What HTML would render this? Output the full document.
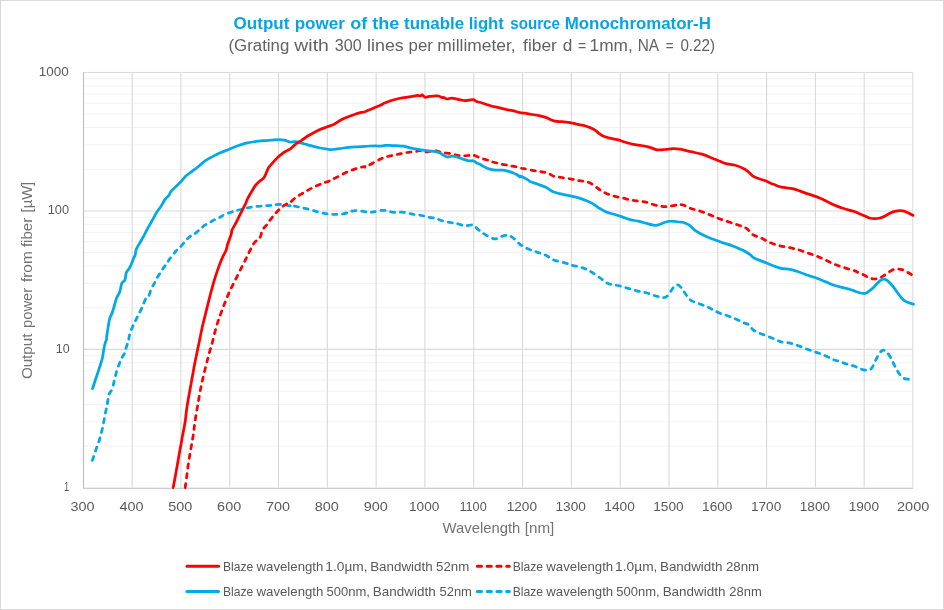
<!DOCTYPE html>
<html><head><meta charset="utf-8"><title>Output power of the tunable light source Monochromator-H</title>
<style>
html,body{margin:0;padding:0;background:#fff;}
body{width:944px;height:610px;overflow:hidden;}
svg{display:block;}
text{font-family:"Liberation Sans",Arial,sans-serif;}
</style></head><body>
<svg width="944" height="610" viewBox="0 0 944 610">
<rect x="0" y="0" width="944" height="610" fill="#fff"/>
<rect x="0.5" y="0.5" width="943" height="609" fill="none" stroke="#d9d9d9" stroke-width="1"/>

<path d="M83.5 446.2H912.8 M83.5 421.82H912.8 M83.5 404.52H912.8 M83.5 391.1H912.8 M83.5 380.13H912.8 M83.5 370.86H912.8 M83.5 362.83H912.8 M83.5 355.75H912.8 M83.5 307.72H912.8 M83.5 283.34H912.8 M83.5 266.04H912.8 M83.5 252.62H912.8 M83.5 241.65H912.8 M83.5 232.38H912.8 M83.5 224.35H912.8 M83.5 217.27H912.8 M83.5 169.24H912.8 M83.5 144.86H912.8 M83.5 127.56H912.8 M83.5 114.14H912.8 M83.5 103.17H912.8 M83.5 93.9H912.8 M83.5 85.87H912.8 M83.5 78.79H912.8" stroke="#f2f2f2" stroke-width="1" fill="none"/>
<path d="M83.5 349.41H912.8 M83.5 210.93H912.8 M132.11 72.45V487.5 M180.91 72.45V487.5 M229.72 72.45V487.5 M278.52 72.45V487.5 M327.33 72.45V487.5 M376.14 72.45V487.5 M424.94 72.45V487.5 M473.75 72.45V487.5 M522.55 72.45V487.5 M571.36 72.45V487.5 M620.16 72.45V487.5 M668.97 72.45V487.5 M717.78 72.45V487.5 M766.58 72.45V487.5 M815.39 72.45V487.5 M864.19 72.45V487.5" stroke="#d9d9d9" stroke-width="1.1" fill="none"/>
<path d="M83.5 72.45H912.8V487.5" fill="none" stroke="#d9d9d9" stroke-width="1"/>
<path d="M83.5 72V488.2H913" fill="none" stroke="#bfbfbf" stroke-width="1.15"/>
<g fill="none" stroke-width="2.75" stroke-linejoin="round" stroke-linecap="round">
<path d="M92.4 460.4C93.0 458.5 94.9 452.9 96.1 449.3C97.3 445.7 98.6 442.7 99.7 439.0C100.8 435.3 101.8 431.1 102.7 427.2C103.6 423.3 104.2 419.1 104.9 415.4C105.6 411.7 106.5 408.3 107.1 405.1C107.7 401.9 108.2 398.2 108.6 396.2C109.0 394.2 109.0 394.5 109.6 393.2C110.2 391.9 111.5 390.6 112.3 388.6C113.0 386.6 113.6 383.5 114.1 381.4C114.6 379.3 115.0 377.8 115.5 376.0C116.0 374.2 116.2 372.6 116.8 370.6C117.4 368.7 118.4 366.1 119.1 364.3C119.8 362.5 120.2 361.2 120.9 359.8C121.6 358.4 122.4 357.0 123.1 355.8C123.8 354.6 124.5 353.7 124.9 352.6C125.4 351.5 125.4 350.4 125.8 349.0C126.2 347.6 126.8 345.6 127.2 344.5C127.6 343.4 127.7 344.2 128.2 342.3C128.7 340.4 129.1 336.2 130.0 333.2C130.9 330.2 132.5 327.0 133.7 324.3C134.9 321.6 136.1 319.6 137.4 316.9C138.8 314.2 140.3 311.3 141.8 308.1C143.3 304.9 145.0 299.8 146.2 297.8C147.4 295.8 148.0 297.4 148.8 295.9C149.7 294.3 150.3 290.7 151.3 288.5C152.3 286.3 153.7 284.6 154.6 282.8C155.5 281.0 156.1 279.5 157.0 277.9C157.9 276.3 159.3 274.5 160.3 273.0C161.3 271.5 162.0 270.1 162.8 268.9C163.6 267.7 164.4 266.7 165.2 265.6C166.0 264.5 167.0 263.4 167.7 262.3C168.4 261.2 168.6 260.4 169.5 259.1C170.4 257.8 172.4 255.6 173.4 254.3C174.4 253.0 174.6 252.5 175.5 251.5C176.4 250.5 177.9 249.5 179.1 248.3C180.3 247.1 181.4 245.8 182.6 244.4C183.8 243.1 184.9 241.5 186.1 240.2C187.3 238.9 188.4 237.5 189.6 236.7C190.8 235.9 192.0 236.1 193.2 235.3C194.4 234.5 195.4 233.2 196.7 232.1C198.0 231.0 199.6 229.7 200.9 228.6C202.2 227.5 203.1 226.3 204.4 225.4C205.7 224.5 207.3 224.1 208.7 223.3C210.1 222.5 211.6 221.2 212.9 220.5C214.2 219.8 215.0 219.6 216.4 218.9C217.8 218.2 220.2 217.2 221.4 216.6C222.6 215.9 222.1 215.7 223.6 215.0C225.1 214.3 228.3 213.2 230.3 212.5C232.3 211.8 233.4 211.4 235.4 210.8C237.4 210.2 239.8 209.7 242.2 209.1C244.6 208.5 247.2 207.9 249.8 207.4C252.4 206.9 254.9 206.6 257.5 206.3C260.1 206.0 262.7 206.0 265.1 205.8C267.5 205.6 269.5 205.5 271.9 205.3C274.3 205.1 276.5 204.3 279.5 204.4C282.5 204.5 287.9 205.5 289.7 205.7C291.4 205.9 288.5 205.2 290.0 205.4C291.5 205.6 295.5 206.4 298.5 207.0C301.5 207.6 304.9 208.3 308.1 209.1C311.3 209.9 314.7 211.0 317.7 211.8C320.7 212.6 323.4 213.3 326.2 213.7C329.0 214.1 331.9 214.4 334.7 214.4C337.5 214.4 340.7 214.3 343.2 213.9C345.7 213.5 347.5 212.4 349.6 211.8C351.7 211.2 353.5 210.5 356.0 210.5C358.5 210.5 362.2 211.3 364.5 211.6C366.8 211.9 368.5 212.2 370.0 212.3C371.5 212.4 371.1 212.2 373.4 211.9C375.7 211.6 380.2 210.2 383.6 210.3C387.0 210.4 390.3 212.0 393.7 212.3C397.1 212.6 400.5 211.9 403.9 212.3C407.3 212.7 411.1 214.0 414.1 214.5C417.1 215.0 419.3 215.1 421.7 215.5C424.1 215.9 426.2 216.8 428.5 217.2C430.8 217.6 433.1 217.6 435.3 218.2C437.6 218.8 439.5 220.1 442.0 220.8C444.5 221.5 447.9 222.0 450.5 222.5C453.1 223.0 455.0 223.1 457.3 223.6C459.6 224.1 461.9 225.5 464.1 225.7C466.4 225.9 469.1 225.0 470.8 225.0C472.5 225.0 472.8 224.8 474.2 225.7C475.6 226.6 477.3 228.8 479.3 230.4C481.3 232.0 483.6 233.8 486.1 235.2C488.7 236.6 492.1 238.7 494.6 238.9C497.2 239.1 499.1 237.0 501.4 236.4C503.6 235.8 506.1 235.2 508.1 235.5C510.1 235.8 511.2 236.5 513.2 238.0C515.2 239.5 517.5 242.5 520.0 244.3C522.5 246.2 525.7 247.8 528.5 249.1C531.3 250.4 534.2 251.1 537.0 252.1C539.8 253.1 542.6 253.7 545.4 255.0C548.2 256.3 550.8 258.8 553.9 260.1C557.0 261.4 561.0 261.7 564.1 262.6C567.2 263.5 569.8 264.6 572.4 265.3C575.0 266.0 577.2 266.3 579.5 266.9C581.8 267.5 583.8 268.1 585.9 269.0C588.0 269.9 589.8 271.0 592.2 272.5C594.6 274.0 597.6 276.1 600.2 278.0C602.9 279.9 605.2 282.4 608.1 283.6C611.0 284.9 614.5 284.8 617.7 285.5C620.9 286.2 624.0 287.2 627.2 288.1C630.4 289.0 633.5 290.0 636.7 290.8C639.9 291.6 643.1 291.9 646.3 292.8C649.5 293.7 652.9 295.2 655.8 296.0C658.7 296.8 661.7 297.8 663.8 297.6C665.9 297.4 666.9 296.4 668.5 294.7C670.1 293.0 671.8 289.2 673.3 287.6C674.8 286.0 676.0 284.9 677.3 284.9C678.6 284.9 679.8 286.0 681.2 287.6C682.7 289.2 684.4 292.6 686.0 294.7C687.6 296.8 688.7 298.8 690.8 300.3C692.9 301.8 696.1 302.4 698.7 303.5C701.4 304.6 704.3 305.6 706.7 306.6C709.1 307.7 710.9 308.7 713.0 309.8C715.1 310.9 716.9 312.0 719.4 313.0C721.9 314.0 725.1 314.9 727.7 315.8C730.4 316.8 732.8 317.6 735.3 318.7C737.8 319.8 740.8 321.5 743.0 322.5C745.2 323.5 747.0 323.5 748.7 324.7C750.4 325.9 751.3 328.4 753.1 329.8C754.9 331.2 757.2 332.1 759.5 333.2C761.8 334.2 764.6 335.1 767.1 336.1C769.6 337.1 772.4 338.1 774.7 339.1C777.0 340.1 778.8 341.3 781.1 341.9C783.4 342.5 786.2 342.4 788.7 342.9C791.2 343.4 793.9 344.1 796.4 345.0C798.9 345.9 801.5 347.0 804.0 348.0C806.5 349.0 809.1 349.9 811.6 350.8C814.1 351.7 816.7 352.4 819.2 353.3C821.8 354.2 824.4 355.4 826.9 356.5C829.4 357.6 832.4 359.2 834.5 360.0C836.6 360.8 837.7 360.7 839.3 361.2C840.9 361.7 842.4 362.5 844.1 363.1C845.9 363.7 848.0 364.5 849.8 365.0C851.5 365.5 853.0 365.7 854.6 366.3C856.2 366.9 857.6 367.8 859.3 368.4C861.0 369.0 863.2 369.9 865.0 370.1C866.8 370.3 868.5 370.4 869.8 369.8C871.1 369.2 871.8 368.0 872.7 366.5C873.7 365.0 874.5 362.6 875.5 360.7C876.5 358.8 877.4 356.6 878.4 355.0C879.4 353.4 880.2 352.0 881.2 351.2C882.2 350.4 883.1 350.1 884.1 350.3C885.1 350.5 885.9 350.9 887.0 352.2C888.1 353.5 889.7 356.0 890.8 357.9C891.9 359.8 892.6 361.7 893.6 363.6C894.6 365.5 895.4 367.4 896.5 369.3C897.6 371.2 899.0 373.5 900.3 375.0C901.6 376.5 902.7 377.7 904.1 378.4C905.5 379.1 908.1 379.1 908.9 379.3" stroke="#00a9ea" stroke-dasharray="4.2 5.6"/>
<path d="M185.2 487.6C185.5 485.5 186.3 479.2 186.9 475.0C187.5 470.8 188.0 466.2 188.6 462.4C189.2 458.6 189.7 455.5 190.3 452.1C190.9 448.7 191.5 445.2 192.1 441.8C192.7 438.4 193.4 434.4 193.8 431.5C194.2 428.6 194.0 428.4 194.6 424.3C195.2 420.2 196.3 413.0 197.4 406.9C198.5 400.8 199.7 393.2 200.9 387.4C202.1 381.6 203.2 376.9 204.4 372.0C205.6 367.1 206.9 362.0 207.9 358.1C208.9 354.2 209.9 350.8 210.6 348.4C211.3 346.0 211.2 346.9 212.1 343.5C213.0 340.1 214.6 332.8 216.0 327.9C217.4 323.0 219.1 318.3 220.7 313.9C222.3 309.5 223.8 305.3 225.4 301.4C227.0 297.5 228.4 294.1 230.1 290.5C231.8 286.9 233.6 283.5 235.5 279.6C237.4 275.7 240.0 270.7 241.8 267.1C243.6 263.5 245.0 260.7 246.4 257.8C247.8 255.0 248.9 252.6 250.3 250.0C251.7 247.4 253.2 244.1 254.8 242.2C256.4 240.2 258.4 240.3 259.7 238.3C261.0 236.3 261.3 232.3 262.5 230.0C263.7 227.7 265.4 226.6 266.8 224.7C268.2 222.8 269.6 220.6 271.0 218.8C272.4 217.0 273.9 215.3 275.3 213.7C276.7 212.1 278.1 210.4 279.5 209.1C280.9 207.8 282.1 206.8 283.7 205.7C285.2 204.6 287.8 203.2 288.8 202.7C289.9 202.2 288.9 203.5 290.0 202.7C291.1 201.9 293.0 199.6 295.3 197.9C297.6 196.2 301.0 194.3 303.8 192.6C306.6 190.9 309.4 189.3 312.4 187.8C315.4 186.3 319.5 184.5 322.0 183.5C324.5 182.5 325.5 182.4 327.3 181.7C329.1 181.0 330.5 180.3 332.6 179.3C334.7 178.3 337.4 176.9 340.1 175.6C342.8 174.3 345.8 172.5 348.6 171.3C351.4 170.1 354.5 169.1 357.1 168.3C359.8 167.5 363.2 166.7 364.5 166.5C365.8 166.3 364.2 167.4 365.0 167.2C365.8 167.0 367.4 166.1 369.2 165.1C371.0 164.1 373.9 162.4 376.0 161.3C378.1 160.2 380.2 159.1 382.0 158.3C383.8 157.5 385.0 157.1 387.0 156.6C389.0 156.1 391.8 155.6 393.8 155.2C395.8 154.8 397.1 154.5 398.9 154.1C400.7 153.7 403.0 153.1 404.8 152.8C406.6 152.5 408.1 152.3 409.9 152.1C411.7 151.9 414.2 151.7 415.8 151.5C417.4 151.3 417.8 150.6 419.2 150.7C420.6 150.8 422.6 151.8 424.3 151.9C426.0 152.0 427.7 151.7 429.4 151.5C431.1 151.3 432.8 150.6 434.5 150.7C436.2 150.8 438.1 151.6 439.6 151.9C441.1 152.2 441.5 152.5 443.4 152.8C445.3 153.1 448.5 153.1 451.0 153.6C453.5 154.1 456.5 155.2 458.6 155.6C460.7 156.0 461.9 155.9 463.7 155.8C465.5 155.8 468.1 155.4 469.7 155.3C471.3 155.2 472.1 154.8 473.5 155.1C474.9 155.4 476.6 156.4 478.1 157.0C479.6 157.6 480.8 158.2 482.4 158.7C484.0 159.2 485.9 159.5 487.5 160.0C489.1 160.5 490.1 161.2 491.7 161.7C493.2 162.2 495.2 162.6 496.8 163.0C498.4 163.4 499.3 163.8 501.0 164.2C502.7 164.5 505.4 164.8 507.0 165.1C508.6 165.4 508.9 165.7 510.3 165.9C511.7 166.2 513.8 166.2 515.4 166.6C517.0 166.9 518.6 167.7 520.0 168.0C521.4 168.3 521.4 168.2 523.5 168.6C525.6 169.0 529.7 169.8 532.4 170.3C535.1 170.8 537.0 171.0 539.5 171.4C542.0 171.8 545.1 172.2 547.5 173.0C549.9 173.8 551.4 175.4 553.8 176.2C556.2 176.9 558.9 177.0 561.8 177.5C564.7 178.0 568.4 178.6 571.3 179.1C574.2 179.6 576.6 180.2 579.3 180.7C581.9 181.2 584.8 181.2 587.2 181.9C589.6 182.6 591.5 183.8 593.6 185.1C595.7 186.4 597.8 188.5 599.9 189.9C602.0 191.3 603.9 192.4 606.3 193.4C608.7 194.4 611.6 195.5 614.2 196.2C616.9 196.9 619.6 197.2 622.2 197.8C624.9 198.4 627.5 199.5 630.1 200.0C632.8 200.5 635.5 200.7 638.1 201.0C640.8 201.3 643.4 201.5 646.0 202.1C648.6 202.7 651.4 204.1 654.0 204.8C656.6 205.5 659.5 206.1 661.9 206.4C664.3 206.7 665.6 206.7 668.2 206.4C670.9 206.1 675.3 205.1 677.8 204.8C680.2 204.6 680.7 204.3 682.9 204.9C685.1 205.5 688.0 207.4 690.9 208.5C693.8 209.6 697.2 210.1 700.4 211.2C703.6 212.3 706.8 213.6 710.0 214.9C713.2 216.2 716.3 217.6 719.5 218.8C722.7 220.0 725.8 220.9 729.0 222.0C732.2 223.1 735.7 224.1 738.6 225.2C741.5 226.3 744.1 226.8 746.5 228.4C748.9 230.0 750.5 233.1 752.9 234.7C755.3 236.3 757.9 236.6 760.8 237.9C763.7 239.2 767.1 241.4 770.3 242.7C773.5 244.0 776.6 245.0 779.9 245.8C783.2 246.6 786.8 247.0 790.0 247.7C793.2 248.4 796.0 249.1 799.0 250.0C802.0 250.9 805.0 252.1 808.0 253.1C811.0 254.1 814.0 255.0 817.0 256.2C820.0 257.4 823.0 258.9 826.0 260.3C829.0 261.7 831.7 263.1 835.0 264.4C838.3 265.7 842.5 267.0 845.8 268.1C849.1 269.2 852.9 270.1 855.0 270.9C857.1 271.7 857.1 272.0 858.7 272.7C860.3 273.4 862.9 274.4 864.6 275.3C866.3 276.2 867.4 277.3 869.0 277.9C870.6 278.5 872.6 278.9 874.2 279.0C875.8 279.1 877.1 278.8 878.6 278.3C880.1 277.8 881.5 277.0 883.0 276.1C884.5 275.2 886.0 274.1 887.5 273.1C889.0 272.1 890.4 270.9 891.9 270.2C893.4 269.5 894.8 269.2 896.3 269.1C897.8 269.0 899.3 269.0 900.8 269.3C902.3 269.6 903.7 270.2 905.2 270.9C906.7 271.6 908.2 272.7 909.6 273.5C911.0 274.3 912.7 275.3 913.3 275.7C913.9 276.1 913.4 275.6 913.4 275.6" stroke="#ff0000" stroke-dasharray="4.2 5.6"/>
<path d="M92.5 388.6C93.0 387.2 94.3 383.2 95.2 380.5C96.1 377.8 97.0 375.1 97.9 372.4C98.8 369.7 99.8 366.7 100.6 364.3C101.3 361.9 102.0 359.9 102.4 358.0C102.9 356.1 103.0 354.4 103.3 352.6C103.6 350.8 103.8 349.0 104.2 347.2C104.6 345.4 105.2 343.0 105.6 341.8C106.0 340.6 106.3 340.8 106.5 340.0C106.7 339.2 106.5 337.9 106.6 336.8C106.7 335.7 106.7 336.0 107.2 333.2C107.7 330.4 108.6 323.3 109.4 319.9C110.2 316.4 111.5 315.0 112.3 312.5C113.1 310.0 113.8 307.6 114.5 305.1C115.2 302.7 115.8 300.0 116.7 297.8C117.6 295.6 118.8 294.4 119.7 291.9C120.6 289.4 121.0 285.0 121.9 283.0C122.8 281.0 124.2 281.8 124.9 280.1C125.6 278.4 125.6 274.7 126.3 272.7C127.0 270.7 128.4 269.8 129.3 268.3C130.2 266.8 130.8 265.5 131.5 263.8C132.2 262.1 133.1 259.5 133.7 258.0C134.3 256.5 134.8 256.5 135.2 255.0C135.6 253.5 135.5 251.3 136.3 249.2C137.1 247.1 138.9 244.6 140.2 242.3C141.5 240.0 142.9 237.5 144.1 235.4C145.2 233.3 145.9 231.6 147.1 229.5C148.2 227.4 149.9 224.6 151.0 222.6C152.1 220.6 153.0 219.1 153.9 217.4C154.8 215.8 155.3 214.3 156.3 212.7C157.3 211.1 158.8 209.4 159.8 208.0C160.8 206.6 161.3 205.9 162.2 204.4C163.1 202.9 164.0 200.6 165.1 199.1C166.2 197.6 167.7 196.9 168.7 195.6C169.7 194.3 170.0 192.7 171.0 191.4C172.0 190.1 173.5 189.0 174.6 187.9C175.7 186.8 176.5 186.0 177.5 185.0C178.5 184.0 179.0 183.6 180.5 182.0C182.0 180.4 184.4 177.4 186.4 175.6C188.4 173.8 190.3 172.7 192.3 171.2C194.3 169.7 196.1 168.4 198.2 166.7C200.3 165.0 202.6 162.5 205.1 160.8C207.6 159.1 210.4 157.8 213.0 156.4C215.6 155.0 218.2 153.7 220.9 152.5C223.6 151.3 226.6 150.3 229.4 149.2C232.2 148.1 234.9 146.8 237.7 145.8C240.5 144.8 243.4 143.9 246.2 143.2C249.0 142.5 251.9 142.1 254.7 141.7C257.5 141.3 260.3 141.0 263.1 140.7C265.9 140.4 269.1 140.3 271.6 140.1C274.2 139.9 276.3 139.6 278.4 139.6C280.5 139.6 282.4 139.7 284.3 140.1C286.2 140.5 288.2 141.8 290.0 142.0C291.8 142.2 293.3 141.4 295.1 141.6C296.9 141.8 299.0 142.4 301.0 142.9C303.0 143.4 304.9 144.0 307.0 144.6C309.1 145.2 311.4 145.7 313.7 146.3C315.9 146.9 318.2 147.5 320.5 148.0C322.8 148.5 325.3 148.9 327.3 149.2C329.3 149.4 330.7 149.6 332.4 149.5C334.1 149.4 335.5 149.1 337.5 148.8C339.5 148.6 341.9 148.3 344.2 148.0C346.4 147.7 348.7 147.3 351.0 147.1C353.3 146.9 355.5 147.0 357.8 146.9C360.1 146.8 362.9 146.6 365.0 146.4C367.1 146.2 368.3 146.1 370.1 146.0C371.9 145.9 374.3 145.8 376.0 145.8C377.7 145.8 378.8 146.3 380.3 146.2C381.9 146.1 383.3 145.4 385.3 145.3C387.3 145.2 389.8 145.5 392.1 145.6C394.4 145.7 397.1 145.7 398.9 145.8C400.7 145.9 401.7 146.0 403.1 146.2C404.5 146.4 405.8 146.7 407.4 147.1C409.0 147.5 410.9 148.1 412.5 148.4C414.1 148.7 415.3 148.8 416.7 149.0C418.1 149.2 419.3 149.6 420.9 149.8C422.4 150.1 424.3 150.3 426.0 150.5C427.7 150.7 429.4 150.9 431.1 151.1C432.8 151.3 434.8 151.6 436.2 151.9C437.6 152.2 438.6 152.4 439.6 152.8C440.6 153.2 441.5 153.9 442.1 154.3C442.7 154.7 442.5 154.7 443.4 155.1C444.2 155.5 445.8 156.8 447.2 157.0C448.6 157.2 450.3 156.2 451.9 156.2C453.5 156.2 455.1 156.5 456.9 157.0C458.7 157.5 460.9 158.5 462.9 159.1C464.9 159.7 467.0 160.5 468.8 160.8C470.6 161.1 472.2 160.5 473.5 160.8C474.8 161.1 475.1 162.0 476.4 162.7C477.7 163.4 479.8 164.3 481.5 165.2C483.2 166.1 484.9 167.2 486.6 168.0C488.3 168.8 490.0 169.3 491.7 169.7C493.4 170.1 495.0 170.1 496.8 170.2C498.6 170.3 500.9 170.0 502.7 170.2C504.5 170.4 506.1 170.8 507.8 171.2C509.5 171.6 511.3 172.1 512.9 172.7C514.4 173.3 515.9 174.1 517.1 174.8C518.3 175.5 519.5 176.8 520.0 177.0C520.5 177.2 518.8 175.5 520.2 176.0C521.6 176.5 526.8 179.2 528.4 180.1C530.0 181.0 528.4 180.8 530.0 181.5C531.6 182.2 535.2 183.2 537.9 184.2C540.5 185.2 543.2 186.0 545.9 187.3C548.5 188.6 551.1 190.9 553.8 192.1C556.4 193.2 558.9 193.5 561.8 194.2C564.7 194.9 568.4 195.5 571.3 196.2C574.2 196.8 576.6 197.3 579.3 198.1C581.9 198.9 584.8 200.0 587.2 201.0C589.6 202.0 591.5 202.9 593.6 204.2C595.7 205.4 597.8 207.2 599.9 208.5C602.0 209.8 603.9 211.1 606.3 212.1C608.7 213.1 611.6 213.5 614.2 214.3C616.9 215.1 619.6 216.0 622.2 216.9C624.9 217.8 627.5 218.9 630.1 219.6C632.8 220.3 635.5 220.6 638.1 221.2C640.8 221.8 643.6 222.6 646.0 223.2C648.4 223.8 650.5 224.5 652.4 224.8C654.2 225.1 655.0 225.6 657.1 225.2C659.2 224.8 662.7 223.0 665.1 222.3C667.5 221.6 669.0 221.2 671.4 221.2C673.8 221.1 677.5 221.8 679.4 222.0C681.3 222.2 681.2 221.8 682.9 222.3C684.5 222.8 687.2 223.8 689.3 225.2C691.4 226.6 693.1 229.0 695.7 230.8C698.4 232.6 702.0 234.5 705.2 236.0C708.4 237.5 711.8 238.7 714.7 239.8C717.6 240.9 719.8 241.7 722.7 242.7C725.6 243.7 729.0 244.6 732.2 245.8C735.4 247.0 739.6 248.9 741.7 249.8C743.8 250.7 743.5 250.5 745.0 251.3C746.5 252.2 748.9 253.8 750.4 254.9C751.9 256.0 751.9 256.9 754.0 258.0C756.1 259.1 760.0 260.4 763.0 261.6C766.0 262.8 769.0 264.1 772.0 265.2C775.0 266.3 778.0 267.7 781.0 268.4C784.0 269.1 787.0 268.7 790.0 269.3C793.0 269.9 796.0 271.0 799.0 272.0C802.0 273.0 805.0 274.2 808.0 275.3C811.0 276.4 814.0 277.2 817.0 278.3C820.0 279.4 823.0 280.7 826.0 281.9C829.0 283.1 832.0 284.5 835.0 285.5C838.0 286.5 841.0 287.1 844.0 287.9C847.0 288.7 851.2 289.8 853.0 290.4C854.8 290.9 854.0 290.8 855.0 291.2C856.0 291.6 857.2 292.1 858.7 292.5C860.2 292.9 862.5 293.4 863.9 293.4C865.2 293.4 865.8 293.2 866.8 292.7C867.8 292.2 868.7 291.4 869.8 290.5C870.9 289.6 872.3 288.7 873.5 287.5C874.7 286.3 875.9 284.7 877.1 283.5C878.3 282.3 879.7 280.9 880.8 280.1C881.9 279.4 882.8 279.0 883.8 279.0C884.8 279.0 885.6 279.4 886.7 280.1C887.8 280.9 889.2 282.2 890.4 283.5C891.6 284.8 892.9 286.3 894.1 287.9C895.3 289.5 896.6 291.4 897.8 293.0C899.0 294.6 900.3 296.4 901.5 297.8C902.7 299.2 903.9 300.3 905.2 301.2C906.6 302.1 908.2 302.5 909.6 303.0C911.0 303.5 912.7 303.9 913.3 304.1C913.9 304.3 913.4 304.1 913.4 304.1" stroke="#00a9ea"/>
<path d="M173.2 487.6C173.9 484.0 176.0 472.7 177.2 465.8C178.4 458.9 179.6 451.7 180.6 446.4C181.6 441.1 182.1 437.9 182.9 433.8C183.7 429.7 184.5 426.0 185.2 421.5C185.9 417.0 186.1 412.6 187.0 406.9C187.9 401.2 189.2 393.9 190.4 387.4C191.6 380.9 192.9 373.5 193.9 367.9C194.9 362.3 195.9 358.0 196.7 353.9C197.5 349.8 197.9 348.4 198.9 343.5C199.9 338.6 201.5 330.5 202.8 324.8C204.1 319.1 205.4 314.4 206.7 309.2C208.0 304.0 209.3 298.5 210.6 293.6C211.9 288.7 213.1 284.3 214.5 279.6C215.9 274.9 217.8 269.5 219.2 265.6C220.6 261.7 221.9 258.8 223.1 256.2C224.3 253.6 225.5 251.9 226.2 250.0C226.9 248.1 226.6 247.6 227.4 245.0C228.2 242.4 230.4 236.8 231.2 234.3C232.0 231.8 231.3 231.7 232.0 230.0C232.7 228.3 234.3 226.1 235.4 223.9C236.5 221.8 237.7 219.4 238.8 217.1C239.9 214.8 241.1 212.6 242.2 210.3C243.3 208.1 244.7 205.4 245.6 203.6C246.5 201.8 246.4 201.2 247.4 199.2C248.4 197.2 250.1 194.1 251.5 191.8C252.9 189.5 254.2 187.0 255.6 185.2C257.0 183.4 258.3 182.3 259.7 181.1C261.1 179.9 262.7 179.2 263.8 177.9C264.9 176.6 265.4 174.7 266.2 173.0C267.0 171.3 267.6 169.3 268.7 167.6C269.8 165.9 271.3 164.4 272.8 162.7C274.3 161.0 276.1 159.0 277.7 157.4C279.3 155.8 281.0 154.5 282.6 153.3C284.2 152.1 286.3 151.1 287.5 150.4C288.7 149.7 288.7 150.2 290.0 149.2C291.3 148.2 293.4 145.9 295.1 144.6C296.8 143.3 298.2 142.5 300.2 141.2C302.2 139.8 304.8 137.9 307.0 136.5C309.2 135.1 311.4 133.9 313.7 132.7C315.9 131.5 318.2 130.3 320.5 129.3C322.8 128.3 325.0 127.7 327.3 126.8C329.6 125.9 331.9 125.3 334.1 124.2C336.4 123.1 338.6 121.2 340.8 120.0C343.1 118.8 345.3 117.9 347.6 117.0C349.9 116.1 352.1 115.3 354.4 114.5C356.7 113.7 359.4 112.9 361.2 112.4C363.0 111.9 363.5 112.2 365.0 111.7C366.5 111.2 368.3 110.4 370.1 109.6C371.9 108.8 374.3 107.7 376.0 107.0C377.7 106.3 378.8 106.0 380.3 105.3C381.9 104.6 383.3 103.6 385.3 102.8C387.3 102.0 389.8 100.9 392.1 100.2C394.4 99.5 396.6 99.0 398.9 98.5C401.2 98.0 403.4 97.6 405.7 97.3C408.0 97.0 410.5 96.7 412.5 96.4C414.5 96.1 416.2 95.5 417.5 95.4C418.8 95.3 419.3 96.1 420.1 96.0C420.9 95.9 421.4 94.7 422.2 94.9C423.0 95.1 424.0 97.0 425.2 97.3C426.4 97.5 427.8 96.6 429.4 96.4C430.9 96.2 432.9 96.1 434.5 96.0C436.1 95.9 437.4 95.7 438.7 96.0C440.0 96.3 441.3 97.5 442.1 97.7C442.9 97.9 442.5 97.1 443.4 97.3C444.2 97.5 445.8 98.9 447.2 99.0C448.6 99.1 450.3 98.0 451.9 98.0C453.5 98.0 454.9 98.7 456.9 99.1C458.9 99.5 461.7 100.3 463.7 100.5C465.7 100.7 467.2 100.4 468.8 100.2C470.4 100.0 472.2 99.4 473.5 99.6C474.8 99.8 475.1 101.0 476.4 101.5C477.7 102.0 479.8 102.3 481.5 102.8C483.2 103.3 484.9 103.9 486.6 104.5C488.3 105.1 489.9 105.7 491.7 106.2C493.5 106.7 495.8 107.0 497.6 107.4C499.4 107.8 501.0 108.3 502.7 108.7C504.4 109.1 506.1 109.5 507.8 109.8C509.5 110.1 510.9 110.2 512.9 110.7C514.9 111.2 518.0 112.3 520.0 112.7C522.0 113.1 523.5 113.0 525.2 113.2C526.9 113.5 527.9 113.9 530.0 114.2C532.1 114.5 535.2 114.8 537.9 115.3C540.5 115.8 543.2 116.5 545.9 117.4C548.5 118.3 551.1 120.2 553.8 120.9C556.4 121.6 558.9 121.4 561.8 121.7C564.7 122.0 568.6 122.3 571.3 122.8C573.9 123.2 575.3 123.9 577.7 124.4C580.1 124.9 583.0 125.2 585.6 126.0C588.2 126.8 591.5 128.1 593.6 129.2C595.7 130.3 596.7 131.7 598.3 132.8C599.9 133.9 601.2 135.1 603.1 136.0C605.0 136.9 607.1 137.5 609.5 138.1C611.9 138.7 614.8 138.9 617.4 139.6C620.0 140.3 622.6 141.5 625.3 142.3C627.9 143.1 630.6 143.9 633.3 144.4C635.9 144.9 638.6 145.1 641.2 145.5C643.9 145.9 646.6 146.4 649.2 147.1C651.9 147.8 654.5 149.4 657.1 149.8C659.8 150.2 662.5 149.7 665.1 149.5C667.8 149.3 670.5 148.8 673.0 148.7C675.5 148.6 677.0 148.7 680.0 149.2C683.0 149.7 687.2 150.9 690.9 151.7C694.6 152.5 698.8 153.2 702.0 154.1C705.2 155.0 707.4 156.1 710.0 157.2C712.6 158.2 715.2 159.3 717.9 160.4C720.5 161.5 723.0 162.8 725.9 163.6C728.8 164.4 732.2 164.3 735.4 165.2C738.6 166.1 742.5 167.9 744.9 169.2C747.3 170.5 748.1 171.8 749.7 173.1C751.3 174.4 752.1 175.9 754.5 177.1C756.9 178.3 760.8 179.1 764.0 180.3C767.2 181.5 770.6 183.2 773.5 184.3C776.4 185.4 778.3 186.4 781.5 187.1C784.7 187.8 789.2 187.9 792.6 188.7C796.0 189.5 798.9 190.8 802.1 191.9C805.3 193.0 808.7 194.1 811.7 195.1C814.7 196.1 818.0 197.3 820.3 198.2C822.6 199.1 823.5 199.6 825.6 200.7C827.7 201.8 830.4 203.4 833.0 204.6C835.6 205.8 838.7 206.8 841.5 207.8C844.3 208.8 847.8 209.8 850.0 210.4C852.2 211.1 853.5 211.2 855.0 211.7C856.5 212.2 857.4 212.7 858.9 213.4C860.4 214.1 862.5 214.9 864.2 215.7C866.0 216.5 867.6 217.5 869.4 218.0C871.1 218.5 873.0 218.6 874.7 218.6C876.5 218.6 878.1 218.4 879.9 218.0C881.6 217.6 883.5 216.7 885.2 215.9C887.0 215.1 888.6 213.8 890.4 213.0C892.1 212.2 894.1 211.5 895.7 211.1C897.3 210.7 898.7 210.5 900.2 210.6C901.7 210.7 903.3 210.9 904.8 211.4C906.3 211.9 908.1 212.8 909.4 213.4C910.7 214.0 912.1 214.9 912.7 215.2C913.3 215.5 913.0 215.2 913.0 215.2" stroke="#ff0000"/>
</g>
<text x="233.60" y="28.50" font-size="16.5" font-weight="bold" fill="#05a4e8" textLength="55.86" lengthAdjust="spacingAndGlyphs">Output</text>
<text x="294.67" y="28.50" font-size="16.5" font-weight="bold" fill="#05a4e8" textLength="50.21" lengthAdjust="spacingAndGlyphs">power</text>
<text x="350.30" y="28.50" font-size="16.5" font-weight="bold" fill="#05a4e8" textLength="17.04" lengthAdjust="spacingAndGlyphs">of</text>
<text x="372.30" y="28.50" font-size="16.5" font-weight="bold" fill="#05a4e8" textLength="26.92" lengthAdjust="spacingAndGlyphs">the</text>
<text x="404.00" y="28.50" font-size="16.5" font-weight="bold" fill="#05a4e8" textLength="60.09" lengthAdjust="spacingAndGlyphs">tunable</text>
<text x="468.69" y="28.50" font-size="16.5" font-weight="bold" fill="#05a4e8" textLength="35.14" lengthAdjust="spacingAndGlyphs">light</text>
<text x="510.30" y="28.50" font-size="16.5" font-weight="bold" fill="#05a4e8" textLength="49.60" lengthAdjust="spacingAndGlyphs">source</text>
<text x="564.78" y="28.50" font-size="16.5" font-weight="bold" fill="#05a4e8" textLength="146.14" lengthAdjust="spacingAndGlyphs">Monochromator-H</text>
<text x="228.53" y="50.60" font-size="17.3" fill="#626262" textLength="60.80" lengthAdjust="spacingAndGlyphs">(Grating</text>
<text x="294.30" y="50.60" font-size="17.3" fill="#626262" textLength="34.52" lengthAdjust="spacingAndGlyphs">with</text>
<text x="334.80" y="50.60" font-size="17.3" fill="#626262" textLength="26.95" lengthAdjust="spacingAndGlyphs">300</text>
<text x="367.07" y="50.60" font-size="17.3" fill="#626262" textLength="36.70" lengthAdjust="spacingAndGlyphs">lines</text>
<text x="408.52" y="50.60" font-size="17.3" fill="#626262" textLength="24.36" lengthAdjust="spacingAndGlyphs">per</text>
<text x="437.29" y="50.60" font-size="17.3" fill="#626262" textLength="78.40" lengthAdjust="spacingAndGlyphs">millimeter,</text>
<text x="523.10" y="50.60" font-size="17.3" fill="#626262" textLength="33.82" lengthAdjust="spacingAndGlyphs">fiber</text>
<text x="562.70" y="50.60" font-size="17.3" fill="#626262" textLength="9.62" lengthAdjust="spacingAndGlyphs">d</text>
<text x="578.00" y="50.60" font-size="17.3" fill="#626262" textLength="8.18" lengthAdjust="spacingAndGlyphs">=</text>
<text x="589.60" y="50.60" font-size="17.3" fill="#626262" textLength="43.20" lengthAdjust="spacingAndGlyphs">1mm,</text>
<text x="637.71" y="50.60" font-size="17.3" fill="#626262" textLength="21.41" lengthAdjust="spacingAndGlyphs">NA</text>
<text x="665.80" y="50.60" font-size="17.3" fill="#626262" textLength="7.87" lengthAdjust="spacingAndGlyphs">=</text>
<text x="680.40" y="50.60" font-size="17.3" fill="#626262" textLength="34.54" lengthAdjust="spacingAndGlyphs">0.22)</text>
<text x="38.86" y="75.68" font-size="13" fill="#595959" textLength="29.95" lengthAdjust="spacingAndGlyphs">1000</text>
<text x="47.71" y="214.38" font-size="13" fill="#595959" textLength="21.39" lengthAdjust="spacingAndGlyphs">100</text>
<text x="55.74" y="352.78" font-size="13" fill="#595959" textLength="13.91" lengthAdjust="spacingAndGlyphs">10</text>
<text x="64.08" y="491.48" font-size="13" fill="#595959" textLength="5.18" lengthAdjust="spacingAndGlyphs">1</text>
<text x="70.55" y="511.20" font-size="13" fill="#595959" textLength="24.07" lengthAdjust="spacingAndGlyphs">300</text>
<text x="119.40" y="511.20" font-size="13" fill="#595959" textLength="24.07" lengthAdjust="spacingAndGlyphs">400</text>
<text x="168.26" y="511.20" font-size="13" fill="#595959" textLength="24.07" lengthAdjust="spacingAndGlyphs">500</text>
<text x="217.11" y="511.20" font-size="13" fill="#595959" textLength="24.07" lengthAdjust="spacingAndGlyphs">600</text>
<text x="265.96" y="511.20" font-size="13" fill="#595959" textLength="24.07" lengthAdjust="spacingAndGlyphs">700</text>
<text x="314.81" y="511.20" font-size="13" fill="#595959" textLength="24.07" lengthAdjust="spacingAndGlyphs">800</text>
<text x="363.67" y="511.20" font-size="13" fill="#595959" textLength="24.07" lengthAdjust="spacingAndGlyphs">900</text>
<text x="408.97" y="511.20" font-size="13" fill="#595959" textLength="30.37" lengthAdjust="spacingAndGlyphs">1000</text>
<text x="459.40" y="511.20" font-size="13" fill="#595959" textLength="27.35" lengthAdjust="spacingAndGlyphs">1100</text>
<text x="506.68" y="511.20" font-size="13" fill="#595959" textLength="30.37" lengthAdjust="spacingAndGlyphs">1200</text>
<text x="555.53" y="511.20" font-size="13" fill="#595959" textLength="30.37" lengthAdjust="spacingAndGlyphs">1300</text>
<text x="604.38" y="511.20" font-size="13" fill="#595959" textLength="30.37" lengthAdjust="spacingAndGlyphs">1400</text>
<text x="653.24" y="511.20" font-size="13" fill="#595959" textLength="30.37" lengthAdjust="spacingAndGlyphs">1500</text>
<text x="702.09" y="511.20" font-size="13" fill="#595959" textLength="30.37" lengthAdjust="spacingAndGlyphs">1600</text>
<text x="750.94" y="511.20" font-size="13" fill="#595959" textLength="30.37" lengthAdjust="spacingAndGlyphs">1700</text>
<text x="799.79" y="511.20" font-size="13" fill="#595959" textLength="30.37" lengthAdjust="spacingAndGlyphs">1800</text>
<text x="848.65" y="511.20" font-size="13" fill="#595959" textLength="30.37" lengthAdjust="spacingAndGlyphs">1900</text>
<text x="897.05" y="511.20" font-size="13" fill="#595959" textLength="32.31" lengthAdjust="spacingAndGlyphs">2000</text>
<text x="442.60" y="533.30" font-size="14.4" fill="#737373" textLength="77.68" lengthAdjust="spacingAndGlyphs">Wavelength</text>
<text x="524.74" y="533.30" font-size="14.4" fill="#737373" textLength="29.62" lengthAdjust="spacingAndGlyphs">[nm]</text>
<text x="222.97" y="570.60" font-size="13" fill="#595959" textLength="30.33" lengthAdjust="spacingAndGlyphs">Blaze</text>
<text x="256.50" y="570.60" font-size="13" fill="#595959" textLength="66.89" lengthAdjust="spacingAndGlyphs">wavelength</text>
<text x="325.34" y="570.60" font-size="13" fill="#595959" textLength="42.33" lengthAdjust="spacingAndGlyphs">1.0µm,</text>
<text x="370.17" y="570.60" font-size="13" fill="#595959" textLength="62.47" lengthAdjust="spacingAndGlyphs">Bandwidth</text>
<text x="436.10" y="570.60" font-size="13" fill="#595959" textLength="33.24" lengthAdjust="spacingAndGlyphs">52nm</text>
<text x="222.97" y="595.70" font-size="13" fill="#595959" textLength="30.33" lengthAdjust="spacingAndGlyphs">Blaze</text>
<text x="256.50" y="595.70" font-size="13" fill="#595959" textLength="66.89" lengthAdjust="spacingAndGlyphs">wavelength</text>
<text x="326.40" y="595.70" font-size="13" fill="#595959" textLength="43.48" lengthAdjust="spacingAndGlyphs">500nm,</text>
<text x="372.87" y="595.70" font-size="13" fill="#595959" textLength="62.78" lengthAdjust="spacingAndGlyphs">Bandwidth</text>
<text x="439.50" y="595.70" font-size="13" fill="#595959" textLength="32.43" lengthAdjust="spacingAndGlyphs">52nm</text>
<text x="512.77" y="570.60" font-size="13" fill="#595959" textLength="30.33" lengthAdjust="spacingAndGlyphs">Blaze</text>
<text x="546.30" y="570.60" font-size="13" fill="#595959" textLength="66.89" lengthAdjust="spacingAndGlyphs">wavelength</text>
<text x="615.14" y="570.60" font-size="13" fill="#595959" textLength="42.33" lengthAdjust="spacingAndGlyphs">1.0µm,</text>
<text x="659.97" y="570.60" font-size="13" fill="#595959" textLength="62.47" lengthAdjust="spacingAndGlyphs">Bandwidth</text>
<text x="725.90" y="570.60" font-size="13" fill="#595959" textLength="33.24" lengthAdjust="spacingAndGlyphs">28nm</text>
<text x="512.77" y="595.70" font-size="13" fill="#595959" textLength="30.33" lengthAdjust="spacingAndGlyphs">Blaze</text>
<text x="546.30" y="595.70" font-size="13" fill="#595959" textLength="66.89" lengthAdjust="spacingAndGlyphs">wavelength</text>
<text x="616.20" y="595.70" font-size="13" fill="#595959" textLength="43.48" lengthAdjust="spacingAndGlyphs">500nm,</text>
<text x="662.67" y="595.70" font-size="13" fill="#595959" textLength="62.78" lengthAdjust="spacingAndGlyphs">Bandwidth</text>
<text x="729.30" y="595.70" font-size="13" fill="#595959" textLength="32.43" lengthAdjust="spacingAndGlyphs">28nm</text>
<text transform="translate(31.7,400.0) rotate(-90)" x="20.90" y="0" font-size="14" fill="#737373" textLength="45.53" lengthAdjust="spacingAndGlyphs">Output</text>
<text transform="translate(31.7,400.0) rotate(-90)" x="72.00" y="0" font-size="14" fill="#737373" textLength="40.15" lengthAdjust="spacingAndGlyphs">power</text>
<text transform="translate(31.7,400.0) rotate(-90)" x="117.90" y="0" font-size="14" fill="#737373" textLength="30.90" lengthAdjust="spacingAndGlyphs">from</text>
<text transform="translate(31.7,400.0) rotate(-90)" x="152.90" y="0" font-size="14" fill="#737373" textLength="29.35" lengthAdjust="spacingAndGlyphs">fiber</text>
<text transform="translate(31.7,400.0) rotate(-90)" x="187.55" y="0" font-size="14" fill="#737373" textLength="30.62" lengthAdjust="spacingAndGlyphs">[µW]</text>
<g stroke-width="3" stroke-linecap="round">
<line x1="187" y1="566.3" x2="218.5" y2="566.3" stroke="#ff0000"/>
<line x1="187" y1="591.5" x2="218.5" y2="591.5" stroke="#00a9ea"/>
<line x1="477.3" y1="566.3" x2="509.3" y2="566.3" stroke="#ff0000" stroke-dasharray="4.2 5.6"/>
<line x1="477.3" y1="591.5" x2="509.3" y2="591.5" stroke="#00a9ea" stroke-dasharray="4.2 5.6"/>
</g>
</svg></body></html>
